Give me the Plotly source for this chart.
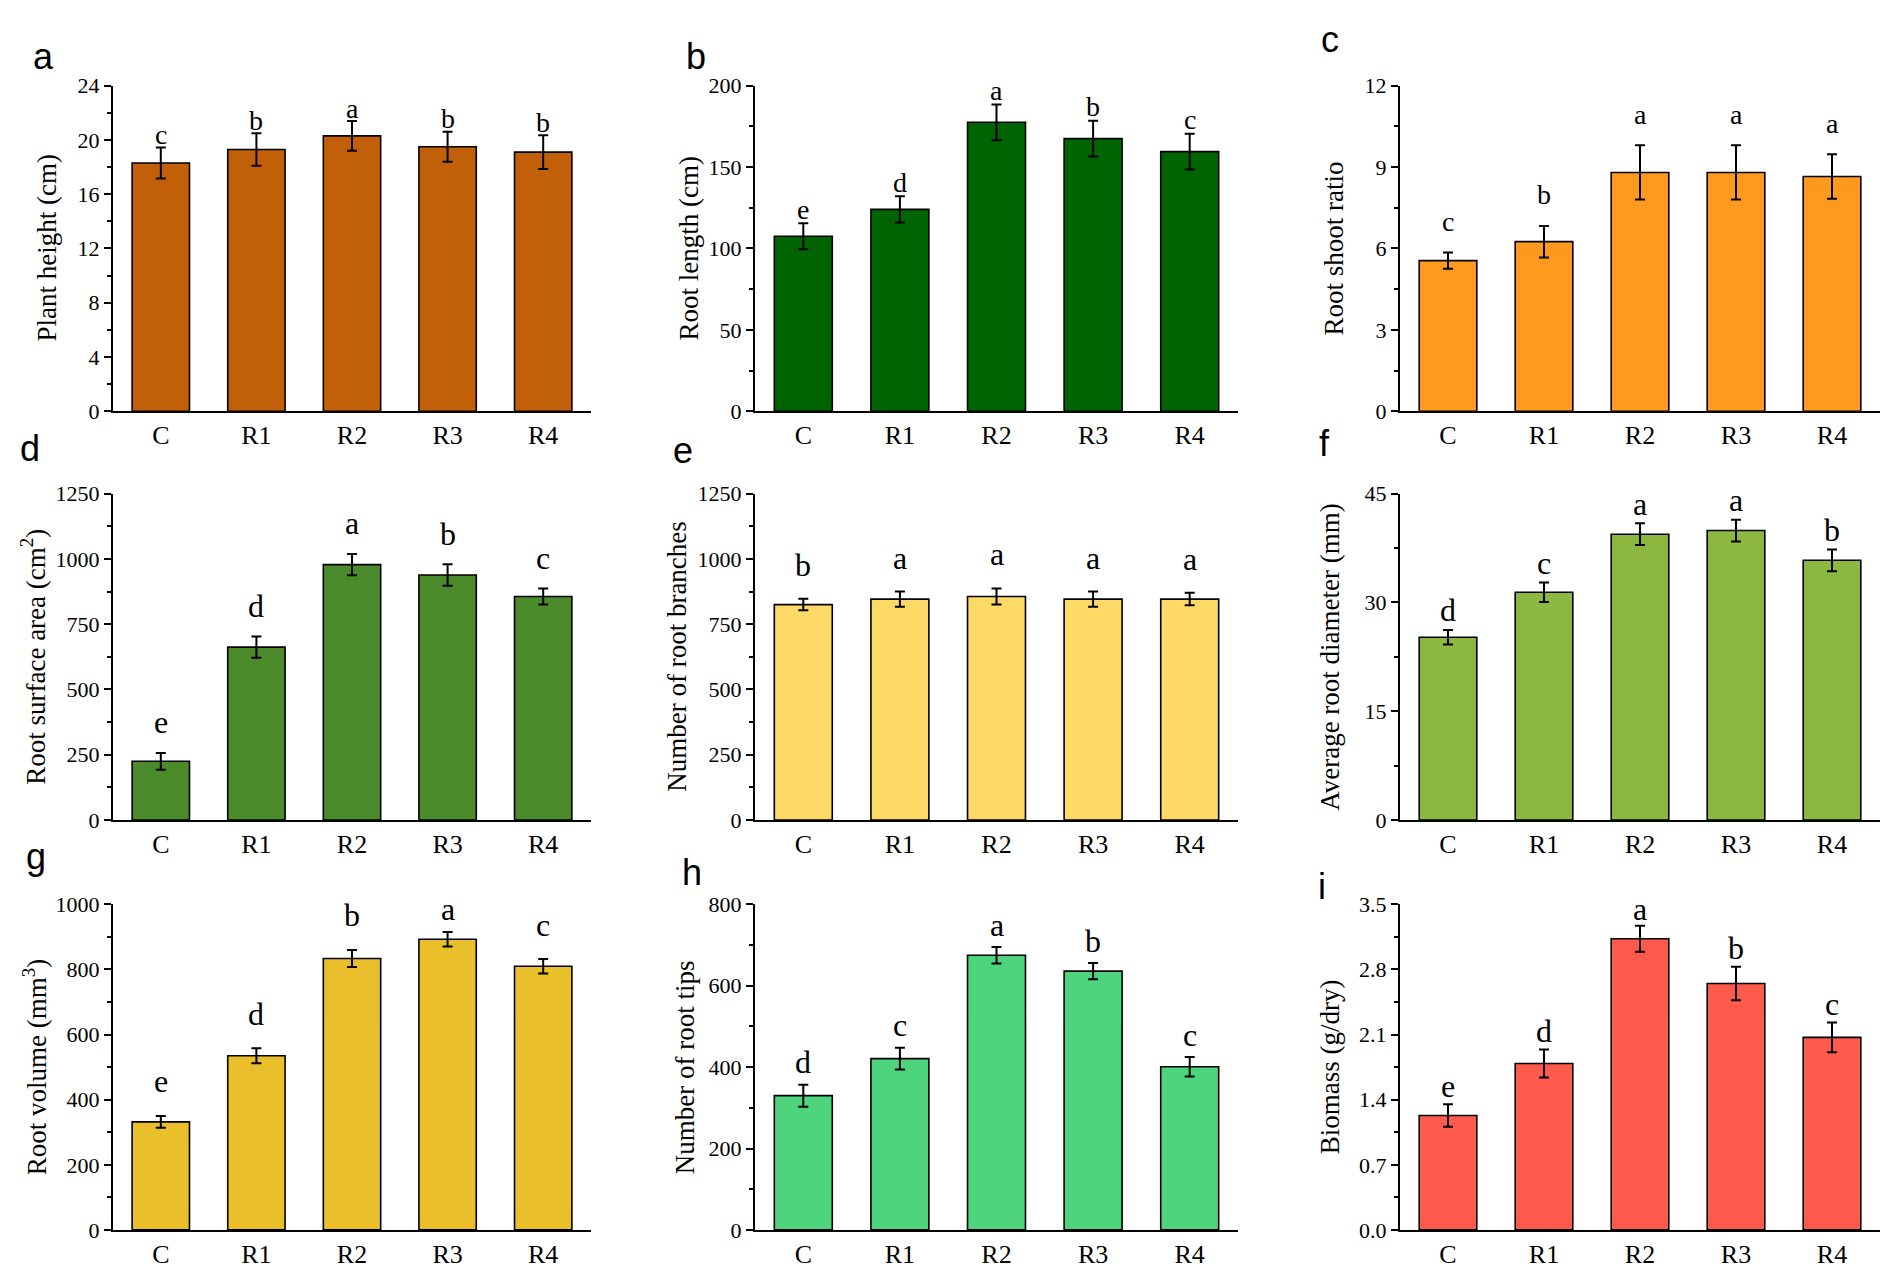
import plotly.graph_objects as go
from plotly.subplots import make_subplots

W, H = 1890, 1281

groups = ['C', 'R1', 'R2', 'R3', 'R4']

plant_height = [18.3, 19.3, 20.3, 19.5, 19.1]
plant_height_err = [1.15, 1.2, 1.1, 1.1, 1.25]
root_length = [107.5, 124, 177.5, 167.5, 159.5]
root_length_err = [8, 8, 11, 11, 11]
root_shoot = [5.55, 6.25, 8.8, 8.8, 8.65]
root_shoot_err = [0.3, 0.58, 1.0, 1.0, 0.82]
surface_area = [225, 662, 978, 938, 856]
surface_area_err = [32, 41, 41, 41, 31]
branches = [825, 846, 856, 846, 846]
branches_err = [22, 29, 31, 29, 24]
diameter = [25.2, 31.4, 39.4, 39.9, 35.8]
diameter_err = [1.0, 1.35, 1.5, 1.5, 1.5]
volume = [332, 535, 834, 893, 810]
volume_err = [18, 23, 26, 22, 22]
root_tips = [330, 421, 675, 636, 401]
root_tips_err = [27, 27, 20, 20, 24]
biomass = [1.23, 1.79, 3.13, 2.65, 2.07]
biomass_err = [0.12, 0.15, 0.14, 0.18, 0.16]

sig_a = ['c', 'b', 'a', 'b', 'b']
sig_b = ['e', 'd', 'a', 'b', 'c']
sig_c = ['c', 'b', 'a', 'a', 'a']
sig_d = ['e', 'd', 'a', 'b', 'c']
sig_e = ['b', 'a', 'a', 'a', 'a']
sig_f = ['d', 'c', 'a', 'a', 'b']
sig_g = ['e', 'd', 'b', 'a', 'c']
sig_h = ['d', 'c', 'a', 'b', 'c']
sig_i = ['e', 'd', 'a', 'b', 'c']

panels = [
    # tag, y title, values, errors, letters, y max, major tick, colour, letter gap, letter size
    ('a', 'Plant height (cm)', plant_height, plant_height_err, sig_a, 24, 4, '#C2600A', 0.95, 28),
    ('b', 'Root length (cm)', root_length, root_length_err, sig_b, 200, 50, '#006400', 8.5, 28),
    ('c', 'Root shoot ratio', root_shoot, root_shoot_err, sig_c, 12, 3, '#FF9A1E', 1.15, 28),
    ('d', 'Root surface area (cm<sup>2</sup>)', surface_area, surface_area_err, sig_d, 1250, 250, '#4B8B2B', 118, 32),
    ('e', 'Number of root branches', branches, branches_err, sig_e, 1250, 250, '#FFD966', 130, 32),
    ('f', 'Average root diameter (mm)', diameter, diameter_err, sig_f, 45, 15, '#8DB840', 2.7, 32),
    ('g', 'Root volume (mm<sup>3</sup>)', volume, volume_err, sig_g, 1000, 200, '#E9BF2B', 106, 32),
    ('h', 'Number of root tips', root_tips, root_tips_err, sig_h, 800, 200, '#4FD47E', 55, 32),
    ('i', 'Biomass (g/dry)', biomass, biomass_err, sig_i, 3.5, 0.7, '#FF5A4B', 0.2, 32),
]

# plot areas in page pixels
col_px = [(105, 583), (747, 1230), (1392, 1872)]
row_px = [(67, 399), (483, 816), (902, 1234)]
title_off = [66, 66, 66, 80, 78, 70, 78, 70, 70]
tag_pos = [(35, 37), (688, 37), (1322, 20), (22, 437), (675, 439), (1316, 432),
           (28, 853), (684, 869), (1314, 884)]

serif = 'Liberation Serif'

fig = make_subplots(rows=3, cols=3)
annotations = []

for k, (tag, ytitle, vals, errs, sig, ymax, dtick, color, gap, lsize) in enumerate(panels):
    r, c = k // 3 + 1, k % 3 + 1
    x0, x1 = col_px[c - 1]
    top, bottom = row_px[r - 1]
    fig.add_trace(go.Bar(
        x=groups, y=vals, width=0.6,
        marker=dict(color=color, line=dict(color='black', width=1.6)),
        error_y=dict(type='data', array=errs, color='black', thickness=2, width=5),
        showlegend=False,
    ), row=r, col=c)
    fig.update_xaxes(domain=[x0 / W, x1 / W], range=[-0.5, 4.5],
                     showline=True, linecolor='black', linewidth=2, ticks='',
                     tickfont=dict(family=serif, size=26, color='black'),
                     showgrid=False, zeroline=False, row=r, col=c)
    fig.update_yaxes(domain=[1 - bottom / H, 1 - top / H], range=[0, ymax],
                     tick0=0, dtick=dtick, tickformat='.1f' if tag == 'i' else '',
                     showline=True, linecolor='black', linewidth=2,
                     ticks='outside', ticklen=7, tickwidth=2, tickcolor='black',
                     minor=dict(dtick=dtick / 2, ticks='outside', ticklen=4,
                                tickwidth=1.5, tickcolor='black'),
                     tickfont=dict(family=serif, size=22, color='black'),
                     showgrid=False, zeroline=False, row=r, col=c)

    xref = 'x' if k == 0 else 'x%d' % (k + 1)
    yref = 'y' if k == 0 else 'y%d' % (k + 1)
    # significance letters above the error bars
    for g, v, e, s in zip(groups, vals, errs, sig):
        annotations.append(dict(
            x=g, y=min(v + e + gap, ymax * 0.985), xref=xref, yref=yref,
            text=s, showarrow=False, xanchor='center', yanchor='middle',
            font=dict(family=serif, size=lsize, color='black')))
    # y axis title
    annotations.append(dict(
        x=(x0 - title_off[k]) / W, y=1 - (top + bottom) / 2 / H,
        xref='paper', yref='paper', text=ytitle, textangle=-90, showarrow=False,
        xanchor='center', yanchor='middle',
        font=dict(family=serif, size=27, color='black')))
    # panel tag
    tx, ty = tag_pos[k]
    annotations.append(dict(
        x=tx / W, y=1 - ty / H, xref='paper', yref='paper', text=tag,
        showarrow=False, xanchor='center', yanchor='middle',
        font=dict(family='Liberation Sans', size=36, color='black')))

fig.update_layout(
    width=W, height=H,
    margin=dict(l=0, r=0, t=0, b=0),
    paper_bgcolor='white', plot_bgcolor='white',
    annotations=annotations,
    bargap=0.4,
)

fig.write_html('out.html', config={'displayModeBar': False})
